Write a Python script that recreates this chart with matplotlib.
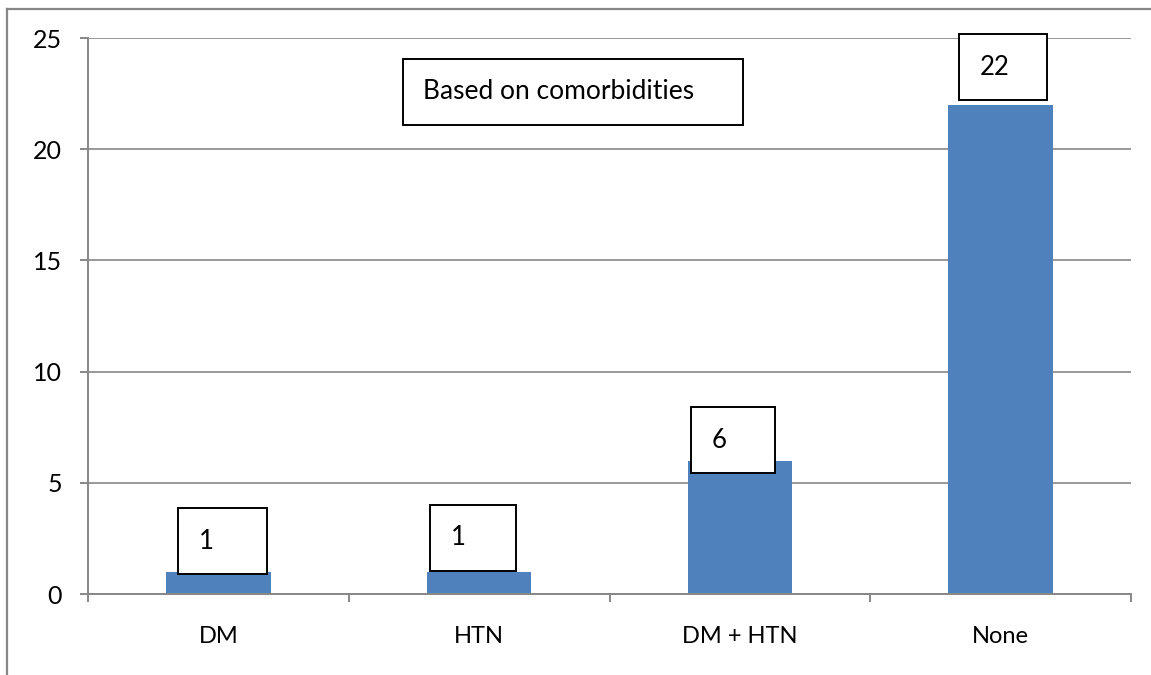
import matplotlib
matplotlib.use("Agg")
import matplotlib.pyplot as plt
from matplotlib.patches import Rectangle
from matplotlib.lines import Line2D

categories = ["DM", "HTN", "DM + HTN", "None"]
counts = [1, 1, 6, 22]
y_ticks = [0, 5, 10, 15, 20, 25]
title_text = "Based on comorbidities"

# label box nudges (x from category centre, y from bar top), in data units
box_dx = [-0.155, -0.188, -0.1875, -0.16]
box_dy = [-0.10, 0.04, -0.56, 0.21]
box_w = [0.341, 0.330, 0.322, 0.337]
box_h = 2.96

plt.rcParams["font.family"] = ["Lato", "DejaVu Sans"]
gray = "#878787"
blue = "#4F81BD"

fig = plt.figure(figsize=(11.51, 6.75), dpi=100)
ax = fig.add_axes([88 / 1151, 81 / 675, 1043 / 1151, 556 / 675])

x = list(range(len(categories)))
ax.bar(x, counts, width=0.4, color=blue, zorder=2)

ax.set_xlim(-0.5, len(categories) - 0.5)
ax.set_ylim(0, 25)
ax.set_yticks(y_ticks)
ax.set_yticklabels([str(t) for t in y_ticks], fontsize=18)
ax.set_xticks(x)
ax.set_xticklabels(categories, fontsize=17)
ax.set_xticks([i - 0.5 for i in range(len(categories) + 1)], minor=True)

ax.yaxis.grid(True, color=gray, linewidth=1.2, zorder=0)
ax.set_axisbelow(True)
for side in ["top", "right"]:
    ax.spines[side].set_visible(False)
for side in ["left", "bottom"]:
    ax.spines[side].set_color(gray)
    ax.spines[side].set_linewidth(1.4)

ax.tick_params(axis="y", length=5.8, width=1.4, color=gray, pad=13)
ax.tick_params(axis="x", which="major", length=0, pad=23)
ax.tick_params(axis="x", which="minor", length=5.8, width=1.4, color=gray)

# value boxes above each bar
unit_x = 1 / 260.75  # data units per pixel horizontally
for i, v in enumerate(counts):
    left = i + box_dx[i]
    bottom = v + box_dy[i]
    ax.add_patch(Rectangle((left, bottom), box_w[i], box_h, facecolor="white",
                           edgecolor="black", linewidth=1.4, zorder=4, clip_on=False))
    ax.text(left + 21 * unit_x, bottom + box_h / 2, str(v), fontsize=18.5,
            ha="left", va="center", zorder=5)

# chart caption in its own box
ax.add_patch(Rectangle((0.708, 21.09), 1.304, 2.97, facecolor="white",
                       edgecolor="black", linewidth=1.4, zorder=4, clip_on=False))
ax.text(0.708 + 20 * unit_x, 21.09 + 2.97 / 2, title_text, fontsize=19,
        ha="left", va="center", zorder=5)

# outer chart frame (top and left edges)
fig.add_artist(Line2D([7 / 1151, 1], [1 - 9 / 675, 1 - 9 / 675], color=gray, linewidth=1.6))
fig.add_artist(Line2D([7 / 1151, 7 / 1151], [0, 1 - 9 / 675], color=gray, linewidth=1.6))

fig.savefig("out.png", dpi=100)
